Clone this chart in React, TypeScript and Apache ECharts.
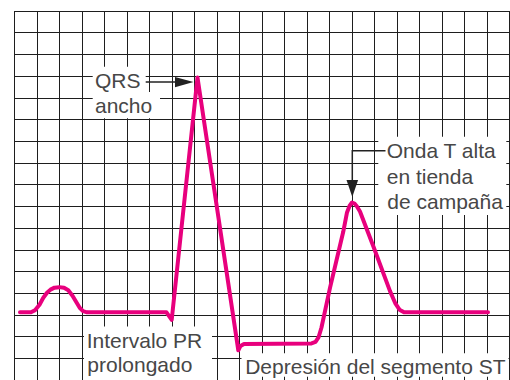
import React, { useEffect, useRef } from "react";
import * as echarts from "echarts";

// ECG trace, in grid cells (x: cells from left grid edge, y: cells relative to the grid line just under the baseline)
const traceX = [
  0.253, 0.742, 0.92, 1.12, 1.289, 1.453, 1.609, 1.787, 2.0, 2.209, 2.4, 2.587, 2.773, 2.92, 3.053, 3.231,
  6.764, 6.996, 8.142, 9.956, 10.053, 10.209, 13.209, 13.387, 13.52, 13.653, 14.031, 14.622, 14.787, 14.898,
  15.009, 15.12, 15.231, 15.364, 15.956, 16.698, 16.942, 17.12, 17.32, 21.053,
];
const traceY = [
  0.117, 0.117, 0.217, 0.469, 0.789, 1.017, 1.163, 1.255, 1.278, 1.246, 1.131, 0.88, 0.56, 0.309, 0.171, 0.117,
  0.117, -0.231, 10.937, -1.634, -1.429, -1.337, -1.314, -1.246, -1.04, -0.583, 1.246, 3.838, 4.72, 5.017,
  5.177, 5.131, 4.994, 4.766, 3.166, 1.095, 0.514, 0.24, 0.117, 0.117,
];

// Paper grid extents (cells)
const xCellMin = 0;
const xCellMax = 22;
const yCellMin = -3;
const yCellMax = 14;

// Annotation texts
const qrsLines = ["QRS", "ancho"];
const tLines = ["Onda T alta", "en tienda", "de campaña"];
const prLines = ["Intervalo PR", "prolongado"];
const stLines = ["Depresión del segmento ST"];

const TEXT_COLOR = "#474747";
const FONT_SIZE = 21;
const FONT_FAMILY = '"Liberation Sans", Arial, sans-serif';
const INK = "#222";

function textEl(text: string, x: number, y: number) {
  return {
    type: "text",
    x,
    y,
    z: 12,
    style: {
      text,
      fill: TEXT_COLOR,
      fontSize: FONT_SIZE,
      fontFamily: FONT_FAMILY,
      align: "left",
      verticalAlign: "middle",
      textAlign: "left",
      textVerticalAlign: "middle",
    },
  };
}

function rectEl(x: number, y: number, width: number, height: number) {
  return { type: "rect", z: 10, shape: { x, y, width, height }, style: { fill: "#fff" } };
}

export default function App() {
  const ref = useRef<HTMLDivElement>(null);
  useEffect(() => {
    if (!ref.current) return;
    const chart = echarts.init(ref.current, undefined, { renderer: "svg" });
    const gridLine = { show: true, lineStyle: { color: "#1e1e1e", width: 1 } };
    chart.setOption({
      animation: false,
      backgroundColor: "#fff",
      grid: { left: 14.3, top: 11, width: 495, height: 371.875 },
      xAxis: {
        type: "value",
        min: xCellMin,
        max: xCellMax,
        interval: 1,
        axisLine: { show: false },
        axisTick: { show: false },
        axisLabel: { show: false },
        splitLine: gridLine,
      },
      yAxis: {
        type: "value",
        min: yCellMin,
        max: yCellMax,
        interval: 1,
        axisLine: { show: false },
        axisTick: { show: false },
        axisLabel: { show: false },
        splitLine: gridLine,
      },
      series: [
        {
          type: "line",
          data: traceX.map((x, i) => [x, traceY[i]]),
          symbol: "none",
          z: 5,
          lineStyle: { color: "#E8007D", width: 4, join: "round", cap: "round" },
        },
      ],
      graphic: [
        rectEl(92.7, 66.7, 53, 25.5),
        rectEl(92.7, 92, 67.3, 26.3),
        rectEl(378.3, 136.7, 128, 78.3),
        rectEl(84, 326.5, 128, 54),
        rectEl(241.5, 353.3, 267, 23.4),
        // QRS arrow
        { type: "line", z: 11, shape: { x1: 145.7, y1: 82, x2: 177, y2: 82 }, style: { stroke: INK, lineWidth: 1.5 } },
        { type: "polygon", z: 11, shape: { points: [[175, 77], [193.5, 82], [175, 87.3]] }, style: { fill: INK } },
        // T wave arrow
        {
          type: "polyline",
          z: 11,
          shape: { points: [[385.5, 150.7], [352.3, 150.7], [352.3, 182]] },
          style: { stroke: INK, lineWidth: 1.5, fill: null },
        },
        { type: "polygon", z: 11, shape: { points: [[346.5, 180], [358.1, 180], [352.3, 197]] }, style: { fill: INK } },
        textEl(qrsLines[0], 95, 80.7),
        textEl(qrsLines[1], 95, 105.4),
        textEl(tLines[0], 386.7, 150.2),
        textEl(tLines[1], 386.7, 176.7),
        textEl(tLines[2], 387.3, 201.7),
        textEl(prLines[0], 86.7, 340),
        textEl(prLines[1], 87.3, 364.4),
        textEl(stLines[0], 245.2, 366),
      ],
    });
    return () => chart.dispose();
  }, []);
  return (
    <div
      ref={ref}
      style={{ position: "fixed", left: 0, top: 0, width: 510, height: 380, background: "#fff" }}
    />
  );
}
